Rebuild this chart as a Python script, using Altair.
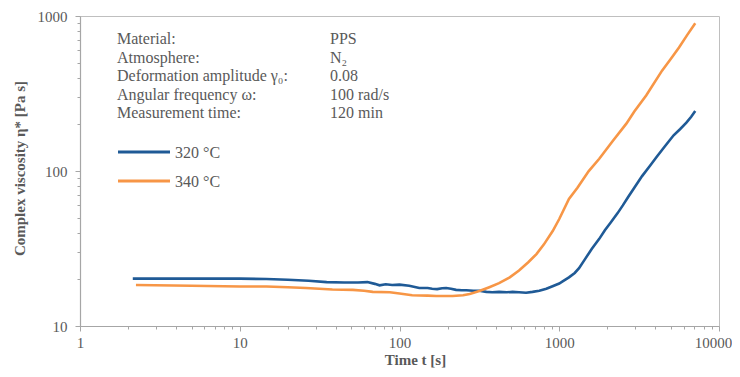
import altair as alt
import pandas as pd

# ---- data ----
t_320 = [2.14, 5, 10, 14.7, 20, 27, 35, 45, 55, 63, 70, 75, 82, 90, 100, 115, 133, 150, 160, 172,
         185, 196, 210, 226, 245, 262, 290, 316, 350, 380, 420, 470, 510, 560, 620, 680, 750, 830,
         900, 1000, 1050, 1150, 1250, 1330, 1450, 1600, 1780, 1930, 2100, 2320, 2500, 2700, 2950,
         3300, 3700, 4100, 4600, 5200, 5700, 6250, 6700, 7100]
v_320 = [20.2, 20.2, 20.2, 20.1, 19.9, 19.6, 19.2, 19.1, 19.1, 19.2, 18.7, 18.3, 18.6, 18.4, 18.5,
         18.2, 17.6, 17.6, 17.4, 17.3, 17.5, 17.6, 17.4, 17.1, 17.0, 17.0, 16.9, 16.9, 16.6, 16.5,
         16.6, 16.5, 16.6, 16.5, 16.4, 16.6, 16.9, 17.4, 18.0, 18.8, 19.4, 20.6, 22.0, 23.6, 27.0,
         31.5, 36.5, 41.5, 46.5, 53.5, 60.0, 68.0, 78.0, 92.7, 108.0, 124.5, 145.0, 170.0, 186.0,
         205.0, 224.0, 244.0]

t_340 = [2.24, 5, 10, 14.7, 20, 26, 38, 51, 60, 68, 87, 100, 120, 150, 170, 215, 250, 275, 316,
         365, 420, 490, 560, 640, 720, 800, 910, 1000, 1150, 1300, 1530, 1780, 2150, 2630, 2950,
         3500, 4400, 5000, 5620, 6300, 7100]
v_340 = [18.4, 18.2, 18.0, 18.0, 17.8, 17.6, 17.2, 17.1, 16.9, 16.6, 16.5, 16.2, 15.8, 15.7, 15.6,
         15.6, 15.8, 16.1, 16.8, 17.8, 18.9, 20.6, 22.8, 25.8, 29.1, 33.5, 41.0, 49.0, 66.0, 78.0,
         99.8, 120.0, 155.0, 202.0, 242.0, 307.0, 444.0, 530.0, 626.0, 750.0, 897.0]

series = ["320 °C", "340 °C"]
colors = ["#1F5A96", "#F79646"]

info_labels = ["Material:", "Atmosphere:", "Deformation amplitude γ₀:",
               "Angular frequency ω:", "Measurement time:"]
info_values = ["PPS", "N₂", "0.08", "100 rad/s", "120 min"]

x_major = [1, 10, 100, 1000, 10000]
y_major = [10, 100, 1000]
x_ticks = [m * d for d in [1, 10, 100, 1000] for m in range(1, 10)] + [10000]
y_ticks = [m * d for d in [10, 100] for m in range(1, 10)] + [1000]

# ---- tables ----
df = pd.concat([
    pd.DataFrame({"t": t_320, "eta": v_320, "series": series[0], "order": range(len(t_320))}),
    pd.DataFrame({"t": t_340, "eta": v_340, "series": series[1], "order": range(len(t_340))}),
])
info = pd.DataFrame({"label": info_labels, "value": info_values, "idx": range(len(info_labels))})
leg = pd.DataFrame({"series": series, "idx": range(len(series))})

FONT = "Liberation Serif, Times New Roman, serif"
GREY = "#595959"
AX = "#A6A6A6"

x_major_js = "[" + ",".join(str(v) for v in x_major) + "]"
y_major_js = "[" + ",".join(str(v) for v in y_major) + "]"
color_scale = alt.Scale(domain=series, range=colors)

lines = alt.Chart(df).mark_line(strokeWidth=2.6, interpolate="linear").encode(
    x=alt.X("t:Q",
            scale=alt.Scale(type="log", domain=[1, 10000], nice=False),
            axis=alt.Axis(
                title="Time t [s]", values=x_ticks,
                labelExpr=f"indexof({x_major_js}, datum.value) >= 0 ? format(datum.value, 'd') : ''",
                tickSize={"condition": {"test": f"indexof({x_major_js}, datum.value) >= 0", "value": 5}, "value": 3},
                labelOffset={"condition": {"test": "datum.value == 10000", "value": -6}, "value": 0},
                labelOverlap=False, labelBound=False, labelFlush=False,
                labelPadding=4, titleX=335, titleY=33, titleBaseline="middle",
                titleAnchor="start", titleAlign="center")),
    y=alt.Y("eta:Q",
            scale=alt.Scale(type="log", domain=[10, 1000], nice=False),
            axis=alt.Axis(
                title="Complex viscosity η* [Pa s]", values=y_ticks,
                labelExpr=f"indexof({y_major_js}, datum.value) >= 0 ? format(datum.value, 'd') : ''",
                tickSize={"condition": {"test": f"indexof({y_major_js}, datum.value) >= 0", "value": 5}, "value": 3},
                labelOverlap=False, labelBound=False, labelFlush=False,
                labelPadding=8, titleX=-61, titleY=152, titleBaseline="middle",
                titleAnchor="start", titleAlign="center")),
    color=alt.Color("series:N", scale=color_scale, legend=None),
    order="order:Q",
)

# legend drawn inside the plot, as in the reference
leg_lines = alt.Chart(leg).transform_calculate(py="136 + 29 * datum.idx").mark_rule(
    strokeWidth=3
).encode(
    x=alt.value(38), x2=alt.value(90), y=alt.Y("py:Q", scale=None),
    color=alt.Color("series:N", scale=color_scale, legend=None),
)
leg_text = alt.Chart(leg).transform_calculate(py="137 + 29 * datum.idx").mark_text(
    align="left", baseline="middle", font=FONT, fontSize=16, color=GREY
).encode(x=alt.value(95), y=alt.Y("py:Q", scale=None), text="series:N")

info_left = alt.Chart(info).transform_calculate(py="28 + 18.6 * datum.idx").mark_text(
    align="left", baseline="alphabetic", font=FONT, fontSize=16, color=GREY
).encode(x=alt.value(37), y=alt.Y("py:Q", scale=None), text="label:N")

info_right = alt.Chart(info).transform_calculate(py="28 + 18.6 * datum.idx").mark_text(
    align="left", baseline="alphabetic", font=FONT, fontSize=16, color=GREY
).encode(x=alt.value(250), y=alt.Y("py:Q", scale=None), text="value:N")

chart = alt.layer(lines, leg_lines, leg_text, info_left, info_right).properties(
    width=639, height=310,
    autosize=alt.AutoSizeParams(type="none"),
    padding={"left": 72, "top": 8, "right": 13, "bottom": 42},
).configure_view(
    stroke="#BFBFBF", strokeWidth=1
).configure_axis(
    grid=False, domainColor=AX, tickColor=AX, domainWidth=1.2, tickWidth=1,
    labelFont=FONT, labelFontSize=15, labelColor=GREY,
    titleFont=FONT, titleFontSize=15, titleFontWeight="bold", titleColor=GREY,
)

chart.save("out.html", embed_options={"renderer": "svg", "actions": False})
